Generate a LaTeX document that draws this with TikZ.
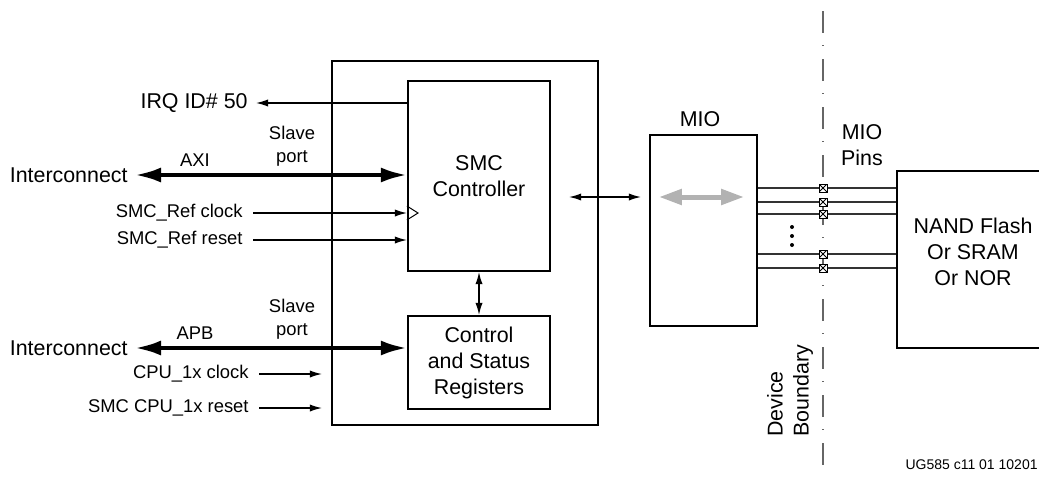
\documentclass[tikz,border=0pt]{standalone}
\usepackage{fontspec}
\setmainfont{Liberation Sans}
\usetikzlibrary{positioning, calc, arrows.meta}
\definecolor{grigio}{gray}{0.7}
\tikzset{
  blocco/.style={draw, line width=1.1pt, align=center, inner sep=0pt, font=\fontsize{10.7}{13}\selectfont},
  etich/.style={font=\fontsize{10.7}{13}\selectfont, inner sep=0pt, align=center},
  piccola/.style={font=\fontsize{9.2}{11.5}\selectfont, inner sep=0pt, align=center},
  freccia/.style={line width=0.65pt, -{Latex[length=6pt,width=3.6pt]}},
  doppia/.style={line width=0.65pt, {Latex[length=6pt,width=3.6pt]}-{Latex[length=6pt,width=3.6pt]}},
  bus/.style={line width=2pt, {Latex[length=13pt,width=7.5pt]}-{Latex[length=13pt,width=7.5pt]}},
  pin/.style={line width=0.6pt, draw=black!80},
  pinbox/.style={draw, fill=white, line width=0.5pt, minimum size=4pt, inner sep=0pt,
    path picture={\draw[line width=0.4pt] (path picture bounding box.south west) -- (path picture bounding box.north east)
      (path picture bounding box.north west) -- (path picture bounding box.south east);}},
}
\begin{document}
\begin{tikzpicture}[x=0.5pt, y=-0.5pt]
        \useasboundingbox (0,0) rectangle (1039,477);
        %disegno blocco SMC
        \node[blocco, minimum width=133pt, minimum height=182pt] (smc) at (465,243) {};
        \node[blocco, minimum width=71pt, minimum height=95pt] (ctrl) at (479,176) {SMC\\Controller};
        \node[blocco, minimum width=71pt, minimum height=46.5pt] (regs) at (479,362.5) {Control\\and Status\\Registers};
        \draw[doppia] (ctrl) -- (regs);
        \draw[line width=0.5pt] (ctrl.west |- 0,206) -- (418,213) -- (ctrl.west |- 0,220);
        %disegno segnali AXI
        \node[etich, anchor=east, inner xsep=4pt] (irq) at (256,103) {IRQ ID\# 50};
        \draw[freccia] (ctrl.west |- irq) -- (irq.east);
        \node[etich, anchor=east, inner xsep=3.5pt] (axi) at (135,175) {Interconnect};
        \draw[bus] (axi.east) -- (ctrl.west |- axi.east);
        \node[piccola] (axilab) at (195,160) {AXI};
        \node[piccola] (slave1) at (292,146.5) {Slave\\port};
        \node[piccola, anchor=east, inner xsep=5pt] (refclk) at (253,213) {SMC\_Ref clock};
        \draw[freccia] (refclk.east) -- (ctrl.west |- refclk.east);
        \node[piccola, anchor=east, inner xsep=5pt] (refrst) at (253,240) {SMC\_Ref reset};
        \draw[freccia] (refrst.east) -- (ctrl.west |- refrst.east);
        %disegno segnali APB
        \node[etich, anchor=east, inner xsep=3.5pt] (apb) at (135,348) {Interconnect};
        \draw[bus] (apb.east) -- (regs.west |- apb.east);
        \node[piccola] (apblab) at (195,333) {APB};
        \node[piccola] (slave2) at (292,319) {Slave\\port};
        \node[piccola, anchor=east, inner xsep=5pt] (cpuclk) at (259,374) {CPU\_1x clock};
        \draw[freccia, shorten >=4.5pt] (cpuclk.east) -- (smc.west |- cpuclk.east);
        \node[piccola, anchor=east, inner xsep=5pt] (cpurst) at (259,408) {SMC CPU\_1x reset};
        \draw[freccia, shorten >=4.5pt] (cpurst.east) -- (smc.west |- cpurst.east);
        %disegno MIO
        \node[blocco, minimum width=53.5pt, minimum height=95.5pt] (mio) at (703.5,230.5) {};
        \node[etich] (miolab) at (700,119) {MIO};
        \draw[doppia, shorten <=9pt, shorten >=4pt] (ctrl.east |- 0,197) -- (mio.west |- 0,197);
        \draw[line width=2.5pt, draw=grigio, {Triangle[length=11.5pt,width=7.5pt]}-{Triangle[length=11.5pt,width=7.5pt]}, shorten <=5pt, shorten >=7pt] (mio.west |- 0,197) -- (mio.east |- 0,197);
        %disegno confine
        \coordinate (bordoA) at (823,11);
        \coordinate (bordoB) at (823,477);
        \draw[line width=1pt, draw=black!60, dash pattern=on 11pt off 6pt on 0.5pt off 6.5pt] (bordoA) -- (bordoB);
        \node[etich, rotate=90, anchor=west, align=left] (confine) at (790,437) {Device\\Boundary};
        %disegno NAND e pin
        \node[draw, line width=1.1pt, minimum width=76pt, minimum height=88.5pt] (nand) at (973,259.5) {};
        \node[etich] (nandlab) at (973,252) {NAND Flash\\Or SRAM\\Or NOR};
        \node[etich] (pinlab) at (862,145.5) {MIO\\Pins};
        \foreach \y in {188,202,214,254,268} {
          \draw[pin] (mio.east |- 0,\y) -- (nand.west |- 0,\y);
          \node[pinbox] at (bordoA |- 0,\y) {};
        }
        \foreach \y in {227,236,245}
          \fill (792,\y) circle[radius=1pt];
        \node[piccola, font=\fontsize{7}{8}\selectfont, anchor=east] (ugnum) at (1038,465) {UG585 c11 01 10201};
    \end{tikzpicture}
\end{document}
